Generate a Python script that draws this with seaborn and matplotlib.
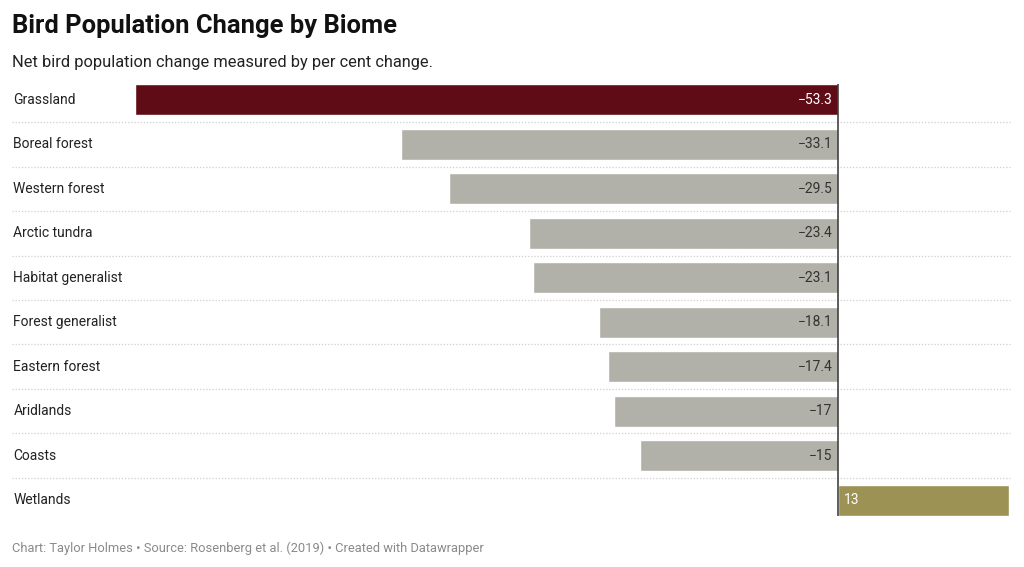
import matplotlib
matplotlib.use("Agg")
import matplotlib.pyplot as plt
import seaborn as sns
import pandas as pd

# data
biomes = ["Grassland", "Boreal forest", "Western forest", "Arctic tundra",
          "Habitat generalist", "Forest generalist", "Eastern forest",
          "Aridlands", "Coasts", "Wetlands"]
change = [-53.3, -33.1, -29.5, -23.4, -23.1, -18.1, -17.4, -17, -15, 13]
bar_colors = ["#600c17", "#b1b1a9", "#b1b1a9", "#b1b1a9", "#b1b1a9",
              "#b1b1a9", "#b1b1a9", "#b1b1a9", "#b1b1a9", "#9b9254"]

sns.set_theme(style="white")
plt.rcParams["font.family"] = ["Roboto", "DejaVu Sans"]

df = pd.DataFrame({"biome": biomes, "change": change})

fig = plt.figure(figsize=(10.24, 5.67), dpi=100)
ax = fig.add_axes([12 / 1024, 1 - 522.3 / 567, 1000 / 1024, 444.6 / 567])

sns.barplot(data=df, x="change", y="biome", hue="biome", palette=bar_colors,
            order=biomes, orient="h", width=0.7, legend=False, ax=ax,
            saturation=1)

ax.set_xlim(-62.6, 13.2)
ax.set_ylim(9.5, -0.5)
ax.set_xlabel("")
ax.set_ylabel("")
ax.set_xticks([])
ax.set_yticks([])
for s in ax.spines.values():
    s.set_visible(False)

# dotted row separators
for i in range(len(biomes) - 1):
    ax.axhline(i + 0.5, color="#cfcfcf", lw=0.9, ls=(0, (1, 1.5)), zorder=0)

# zero line
ax.vlines(0, -0.36, 9.36, color="#333333", lw=1.1, zorder=5)

# category labels and value labels
for i, (name, val) in enumerate(zip(biomes, change)):
    ax.text(-62.5, i, name, ha="left", va="center", fontsize=10, color="#222222")
    txt = f"{val:g}".replace("-", "\u2212")
    if val < 0:
        col = "white" if i == 0 else "#333333"
        ax.text(-0.4, i, txt, ha="right", va="center", fontsize=10, color=col, zorder=6)
    else:
        ax.text(0.45, i, txt, ha="left", va="center", fontsize=10, color="white", zorder=6)

fig.text(12 / 1024, 1 - 26 / 567, "Bird Population Change by Biome", ha="left", va="center",
         fontsize=18.4, fontweight="bold", color="#111111")
fig.text(12 / 1024, 1 - 62 / 567, "Net bird population change measured by per cent change.",
         ha="left", va="center", fontsize=11.8, color="#222222")
fig.text(12 / 1024, 1 - 548 / 567,
         "Chart: Taylor Holmes \u2022 Source: Rosenberg et al. (2019) \u2022 Created with Datawrapper",
         ha="left", va="center", fontsize=9.3, color="#8a8a8a")

fig.savefig("out.png", dpi=100)
